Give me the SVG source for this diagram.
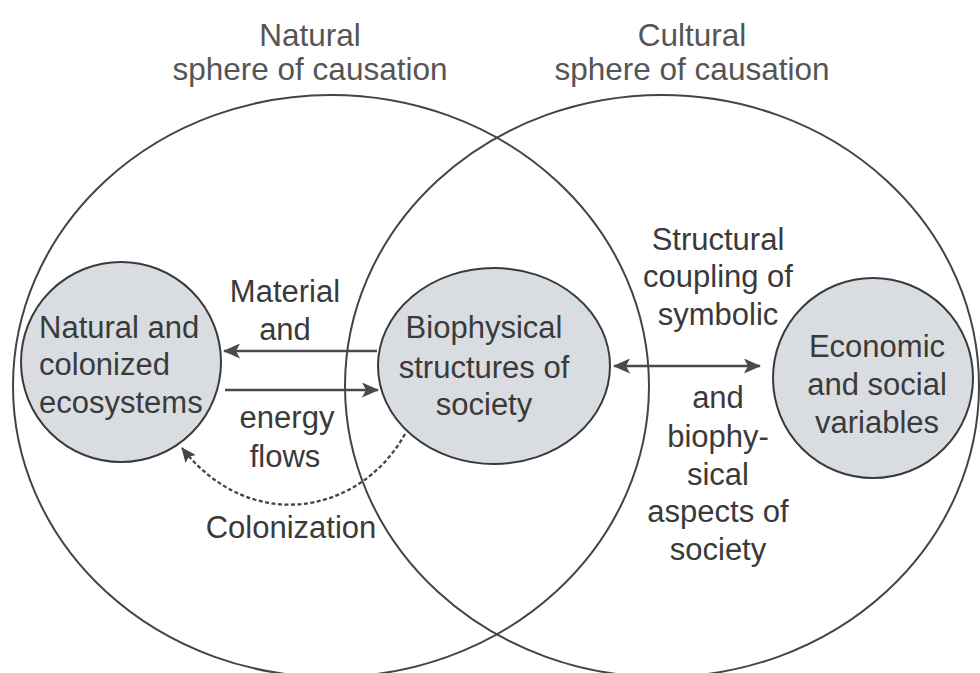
<svg xmlns="http://www.w3.org/2000/svg" width="980" height="673" viewBox="0 0 980 673">
  <defs>
    <style>
      text { font-family: "Liberation Sans", Arial, Helvetica, sans-serif; font-size: 31px; fill: #3a3a3a; }
      .title { fill: #555; font-size: 31.5px; text-anchor: middle; }
      .mid { text-anchor: middle; }
      .sphere { fill: none; stroke: #444; stroke-width: 2; }
      .node { fill: #d9dde1; stroke: #3a3a3a; stroke-width: 2; }
      .flow { fill: none; stroke: #4a4a4a; stroke-width: 2.6; }
      .dash { fill: none; stroke: #444; stroke-width: 2.3; stroke-dasharray: 4 2.5; }
    </style>
    <marker id="ah" viewBox="0 0 17 15" refX="16" refY="7.5" markerWidth="17" markerHeight="15" markerUnits="userSpaceOnUse" orient="auto-start-reverse">
      <path d="M0,0 L17,7.5 L0,15 L4,7.5 Z" fill="#4a4a4a"/>
    </marker>
    <marker id="ahs" viewBox="0 0 15 13" refX="14" refY="6.5" markerWidth="15" markerHeight="13" markerUnits="userSpaceOnUse" orient="auto">
      <path d="M0,0 L15,6.5 L0,13 L3,6.5 Z" fill="#444"/>
    </marker>
  </defs>
  <rect width="980" height="673" fill="#ffffff"/>

  <g id="sphere-natural">
    <ellipse class="sphere" cx="331" cy="386" rx="318" ry="291"/>
    <text class="title" x="310" y="46">Natural</text>
    <text class="title" x="310" y="80">sphere of causation</text>
  </g>
  <g id="sphere-cultural">
    <ellipse class="sphere" cx="662" cy="386" rx="317" ry="291"/>
    <text class="title" x="692" y="46">Cultural</text>
    <text class="title" x="692" y="80">sphere of causation</text>
  </g>

  <g id="connectors">
    <line class="flow" x1="377" y1="351" x2="224" y2="351" marker-end="url(#ah)"/>
    <line class="flow" x1="225" y1="390" x2="378" y2="390" marker-end="url(#ah)"/>
    <line class="flow" x1="614" y1="366" x2="760" y2="366" marker-start="url(#ah)" marker-end="url(#ah)"/>
    <path class="dash" d="M405,434 C360,515 250,535 182,448" marker-end="url(#ahs)"/>
  </g>

  <g id="node-ecosystems">
    <circle class="node" cx="121" cy="362" r="100"/>
    <text x="39" y="338">Natural and</text>
    <text x="39" y="375">colonized</text>
    <text x="39" y="413">ecosystems</text>
  </g>
  <g id="node-biophysical">
    <ellipse class="node" cx="494" cy="366" rx="116" ry="98"/>
    <text class="mid" x="484" y="338">Biophysical</text>
    <text class="mid" x="484" y="378">structures of</text>
    <text class="mid" x="484" y="415">society</text>
  </g>
  <g id="node-economic">
    <circle class="node" cx="873" cy="378" r="100"/>
    <text class="mid" x="877" y="357">Economic</text>
    <text class="mid" x="877" y="395">and social</text>
    <text class="mid" x="877" y="433">variables</text>
  </g>

  <g id="label-flows">
    <text class="mid" x="285" y="302">Material</text>
    <text class="mid" x="285" y="340">and</text>
    <text class="mid" x="287" y="428">energy</text>
    <text class="mid" x="285" y="467">flows</text>
  </g>
  <g id="label-colonization">
    <text class="mid" x="291" y="538">Colonization</text>
  </g>
  <g id="label-coupling">
    <text class="mid" x="718" y="250">Structural</text>
    <text class="mid" x="718" y="287">coupling of</text>
    <text class="mid" x="718" y="325">symbolic</text>
    <text class="mid" x="718" y="408">and</text>
    <text class="mid" x="718" y="447">biophy-</text>
    <text class="mid" x="718" y="485">sical</text>
    <text class="mid" x="718" y="522">aspects of</text>
    <text class="mid" x="718" y="560">society</text>
  </g>
</svg>
